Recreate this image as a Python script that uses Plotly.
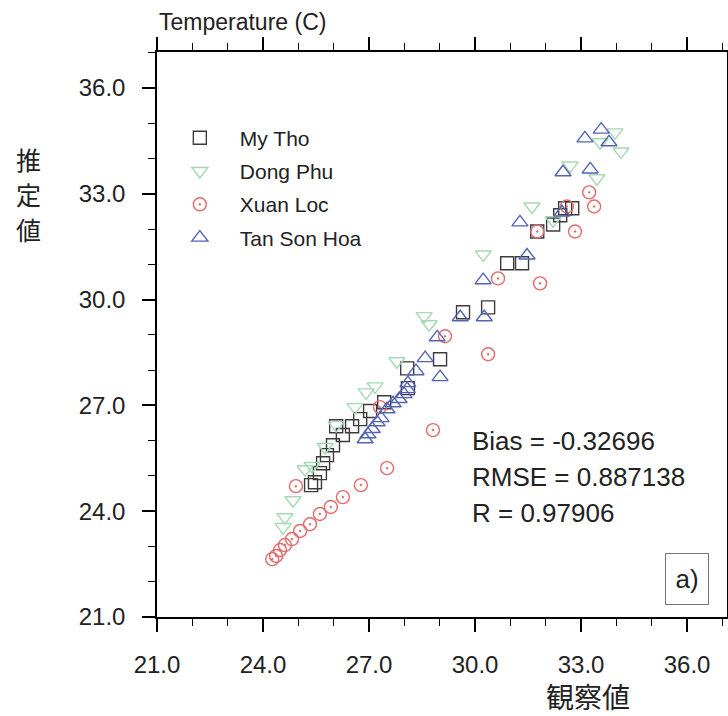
import plotly.graph_objects as go

# ---- data (observed x, estimated y) ----
mytho_x = [25.36, 25.47, 25.61, 25.70, 25.81, 25.98, 26.07, 26.26, 26.52, 26.75, 27.03, 27.43,
           28.08, 28.10, 29.01, 29.66, 30.37, 30.91, 31.33, 31.76, 32.21, 32.41, 32.55, 32.75]
mytho_y = [24.74, 24.82, 25.08, 25.36, 25.59, 25.87, 26.41, 26.16, 26.41, 26.61, 26.84, 27.09,
           28.05, 27.49, 28.31, 29.64, 29.78, 31.03, 31.03, 31.93, 32.13, 32.39, 32.59, 32.59]

dongphu_x = [24.57, 24.62, 24.85, 25.19, 25.39, 25.76, 26.07, 26.60, 26.92, 27.17, 27.79, 28.56,
             28.70, 30.23, 31.61, 32.21, 32.69, 33.45, 33.54, 33.96, 34.13]
dongphu_y = [23.55, 23.83, 24.31, 25.19, 25.28, 25.82, 26.44, 26.95, 27.37, 27.54, 28.25, 29.53,
             29.30, 31.28, 32.64, 32.25, 33.80, 33.44, 34.46, 34.74, 34.20]

xuanloc_x = [24.26, 24.37, 24.48, 24.62, 24.82, 25.05, 25.33, 25.61, 25.92, 26.26, 26.77, 24.93,
             27.51, 27.31, 28.81, 29.15, 30.37, 30.65, 31.84, 31.76, 32.83, 32.60, 33.23, 33.37]
xuanloc_y = [22.64, 22.73, 22.90, 23.04, 23.21, 23.44, 23.63, 23.92, 24.12, 24.40, 24.74, 24.71,
             25.22, 26.95, 26.30, 28.96, 28.45, 30.60, 30.46, 31.93, 31.93, 32.64, 33.04, 32.64]

tansonhoa_x = [26.89, 26.97, 27.09, 27.23, 27.34, 27.51, 27.68, 27.85, 27.99, 28.08, 28.10, 28.33,
               28.59, 29.01, 28.93, 29.58, 30.26, 30.23, 31.47, 31.27, 32.46, 32.49, 33.26, 33.11,
               33.57, 33.79]
tansonhoa_y = [26.04, 26.18, 26.33, 26.52, 26.64, 26.89, 27.06, 27.18, 27.32, 27.46, 27.63, 27.97,
               28.34, 27.80, 28.93, 29.50, 29.50, 30.55, 31.25, 32.19, 32.47, 33.61, 33.69, 34.57,
               34.82, 34.46]

series_names = ["My Tho", "Dong Phu", "Xuan Loc", "Tan Son Hoa"]
stats_lines = ["Bias = -0.32696", "RMSE = 0.887138", "R = 0.97906"]
ytitle_chars = ["推", "定", "値"]
tick_vals = [21, 24, 27, 30, 33, 36]

LATIN = "Liberation Sans, Arial, sans-serif"
CJK = "Noto Sans CJK JP, sans-serif"

fig = go.Figure()
specs = [
    (mytho_x, mytho_y, "square-open", "#3c3c3c", 13),
    (dongphu_x, dongphu_y, "triangle-down-open", "#a6d9b2", 14),
    (xuanloc_x, xuanloc_y, "circle-open-dot", "#e26a6a", 13),
    (tansonhoa_x, tansonhoa_y, "triangle-up-open", "#5464b4", 14),
]
for name, (xs, ys, sym, col, sz) in zip(series_names, specs):
    fig.add_trace(go.Scatter(
        x=xs, y=ys, mode="markers", name=name, legendgroup=name,
        marker=dict(symbol=sym, size=sz, color=col, line=dict(color=col, width=1.4)),
    ))

axis_common = dict(
    showline=True, linecolor="black", linewidth=1.5, mirror="allticks",
    ticks="outside", ticklen=13, tickwidth=1.5, tickcolor="black",
    tickmode="array", tickvals=tick_vals, ticktext=[f"{v:.1f}" for v in tick_vals],
    minor=dict(ticks="outside", ticklen=7, tickwidth=1.2, tickcolor="black", dtick=1, tick0=21),
    showgrid=False, zeroline=False, automargin=False,
    tickfont=dict(family=LATIN, size=24, color="#222"),
)

fig.update_xaxes(range=[21, 37.13], ticklabelstandoff=12, **axis_common)
fig.update_yaxes(range=[21, 37.02], ticklabelstandoff=12, **axis_common)

fig.update_layout(
    width=728, height=716,
    margin=dict(l=157, r=1, t=52, b=99, autoexpand=False),
    paper_bgcolor="white", plot_bgcolor="white",
    showlegend=True,
    legend=dict(
        x=0.005, y=0.884, xanchor="left", yanchor="top",
        bgcolor="rgba(0,0,0,0)", font=dict(family=LATIN, size=21, color="#222"),
        tracegroupgap=3, itemwidth=70,
    ),
)

# statistics text
for i, line in enumerate(stats_lines):
    fig.add_annotation(
        xref="paper", yref="paper", x=0.549, y=0.3115 - i * 0.0637,
        xanchor="left", yanchor="middle", showarrow=False, text=line,
        font=dict(family=LATIN, size=26, color="#222"),
    )

# panel label box
fig.add_annotation(
    xref="paper", yref="paper", x=0.9298, y=0.0673, xanchor="center", yanchor="middle",
    showarrow=False, text="a)", font=dict(family=LATIN, size=26, color="#222"),
    bordercolor="#777", borderwidth=1, borderpad=1, width=40, height=48, bgcolor="white",
)

# titles
fig.add_annotation(
    xref="paper", yref="paper", x=0.0, y=1.053, xanchor="left", yanchor="middle",
    showarrow=False, text="Temperature (C)", font=dict(family=LATIN, size=23, color="#222"),
)
for i, ch in enumerate(ytitle_chars):
    fig.add_annotation(
        xref="paper", yref="paper", x=-0.226, y=0.8106 - i * 0.062,
        xanchor="center", yanchor="middle", showarrow=False, text=ch,
        font=dict(family=CJK, size=25, color="#222"),
    )
fig.add_annotation(
    xref="paper", yref="paper", x=0.756, y=-0.139, xanchor="center", yanchor="middle",
    showarrow=False, text="観察値", font=dict(family=CJK, size=28, color="#222"),
)

fig.write_html("out.html")
